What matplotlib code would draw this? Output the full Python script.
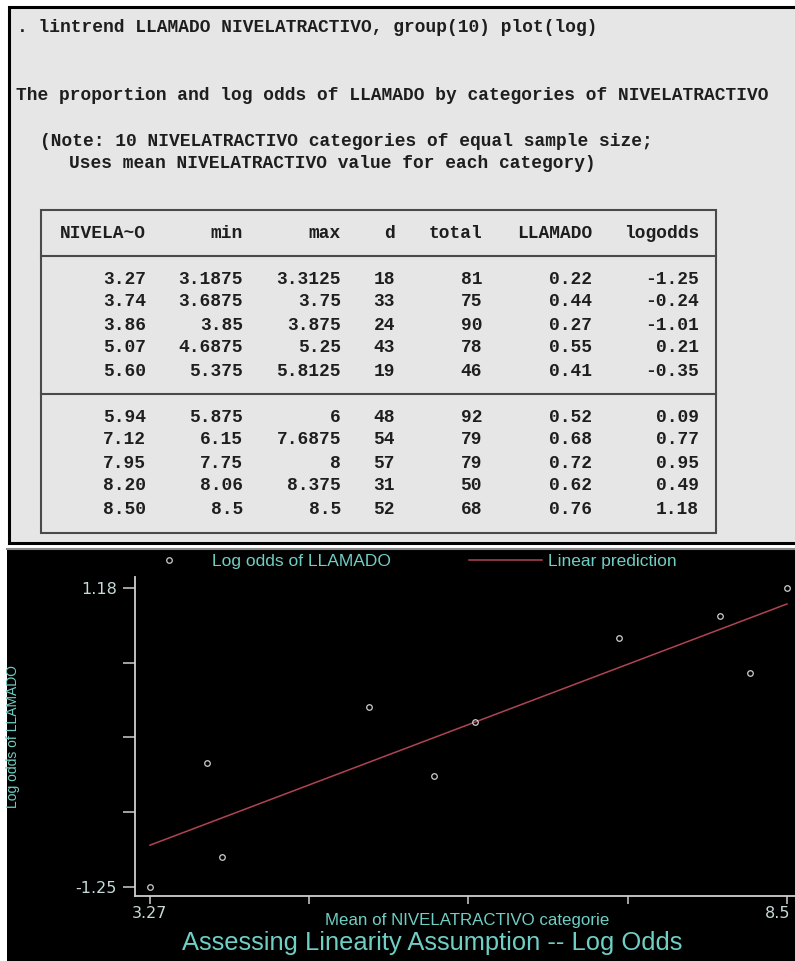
import numpy as np
import matplotlib
matplotlib.use("Agg")
import matplotlib.pyplot as plt
from matplotlib.patches import Rectangle
from matplotlib.lines import Line2D
from matplotlib.transforms import ScaledTranslation

# table data (lintrend output)
nivel_mean = [3.27, 3.74, 3.86, 5.07, 5.60, 5.94, 7.12, 7.95, 8.20, 8.50]
nivel_min = [3.1875, 3.6875, 3.85, 4.6875, 5.375, 5.875, 6.15, 7.75, 8.06, 8.5]
nivel_max = [3.3125, 3.75, 3.875, 5.25, 5.8125, 6, 7.6875, 8, 8.375, 8.5]
d = [18, 33, 24, 43, 19, 48, 54, 57, 31, 52]
total = [81, 75, 90, 78, 46, 92, 79, 79, 50, 68]
llamado = [0.22, 0.44, 0.27, 0.55, 0.41, 0.52, 0.68, 0.72, 0.62, 0.76]
logodds = [-1.25, -0.24, -1.01, 0.21, -0.35, 0.09, 0.77, 0.95, 0.49, 1.18]
headers = ["NIVELA~O", "min", "max", "d", "total", "LLAMADO", "logodds"]

# linear prediction (ends of the fitted line)
pred_x = [3.27, 8.50]
pred_y = [-0.91, 1.05]

W, H = 795, 961
fig = plt.figure(figsize=(W / 100, H / 100), dpi=100, facecolor="white")

# canvas in pixel coords for the console part
cv = fig.add_axes([0, 0, 1, 1])
cv.set_xlim(0, W)
cv.set_ylim(H, 0)
cv.axis("off")

cv.add_patch(Rectangle((9, 7), W, 536, facecolor="#e6e6e6", edgecolor="black", lw=2.2))
cv.add_patch(Rectangle((7, 548), W, H, facecolor="black", edgecolor="none"))
cv.plot([7, W], [549, 549], color="#8a8a8a", lw=1.5)

mono = dict(family="Liberation Mono", weight="bold", size=12.9, color="#1e1e1e", va="center")
cv.text(17, 27, ". lintrend LLAMADO NIVELATRACTIVO, group(10) plot(log)", **mono)
cv.text(16, 96, "The proportion and log odds of LLAMADO by categories of NIVELATRACTIVO", **mono)
cv.text(40, 142, "(Note: 10 NIVELATRACTIVO categories of equal sample size;", **mono)
cv.text(69, 164, "Uses mean NIVELATRACTIVO value for each category)", **mono)

# table frame
cv.add_patch(Rectangle((41, 210), 675, 323, facecolor="none", edgecolor="#4a4a4a", lw=1.5))
cv.plot([41, 716], [256, 256], color="#4a4a4a", lw=1.5)
cv.plot([41, 716], [394, 394], color="#4a4a4a", lw=1.5)

col_right = [146, 243, 341, 395, 482, 592, 699]
for xr, h in zip(col_right, headers):
    cv.text(xr, 233, h, ha="right", **mono)

row_y = [279, 302, 325, 348, 371, 417, 440, 463, 486, 509]
for i, y in enumerate(row_y):
    cells = [f"{nivel_mean[i]:.2f}", f"{nivel_min[i]:g}", f"{nivel_max[i]:g}",
             f"{d[i]}", f"{total[i]}", f"{llamado[i]:.2f}", f"{logodds[i]:.2f}"]
    for xr, c in zip(col_right, cells):
        cv.text(xr, y, c, ha="right", **mono)

# stata graph
cyan = "#6fcfc4"
grey = "#cfcfcf"
ticktxt = "#c6dada"
red = "#b04455"
ax = fig.add_axes([135 / W, (H - 896) / H, (W - 135) / W, (896 - 577) / H])
ax.set_facecolor("none")
ax.set_xlim(3.147, 8.566)
ax.set_ylim(-1.323, 1.269)

ax.plot(pred_x, pred_y, color=red, lw=1.1)
ax.plot(nivel_mean, logodds, "o", ms=4, mfc="none", mec=grey, mew=0.9)

for s in ["top", "right"]:
    ax.spines[s].set_visible(False)
for s in ["left", "bottom"]:
    ax.spines[s].set_color(grey)
    ax.spines[s].set_linewidth(1.3)

ax.set_xticks(np.linspace(3.27, 8.5, 5))
ax.set_xticklabels(["3.27", "", "", "", "8.5"])
ax.set_yticks(np.linspace(-1.25, 1.18, 5))
ax.set_yticklabels(["-1.25", "", "", "", "1.18"])
ax.tick_params(colors=grey, labelcolor=ticktxt, width=1.1, labelsize=11.5)
ax.tick_params(axis="y", length=9, pad=4)
ax.tick_params(axis="x", length=6, pad=1)
# nudge the right-hand label so it stays inside the picture
last = ax.get_xticklabels()[-1]
last.set_transform(last.get_transform() + ScaledTranslation(-7 / 72, 0, fig.dpi_scale_trans))

ax.set_ylabel("Log odds of LLAMADO", color=cyan, fontsize=10, family="Liberation Sans")
ax.yaxis.set_label_coords((20 - 135) / (W - 135), 0.5)

fig.text(467 / W, (H - 921) / H, "Mean of NIVELATRACTIVO categorie", color=cyan,
         fontsize=12.2, family="Liberation Sans", ha="center", va="center")
fig.text(432 / W, (H - 943) / H, "Assessing Linearity Assumption -- Log Odds", color=cyan,
         fontsize=18.4, family="Liberation Sans", ha="center", va="center")

handles = [Line2D([], [], ls="none", marker="o", ms=4, mfc="none", mec=grey, mew=0.9),
           Line2D([], [], color=red, lw=1.1)]
fig.legend(handles, ["Log odds of LLAMADO", "Linear prediction"], ncol=2, frameon=False,
           loc="center left", bbox_to_anchor=(133 / W, (H - 561) / H),
           borderaxespad=0, borderpad=0, handlelength=4.2, handletextpad=0.35,
           columnspacing=4.5, labelcolor=cyan, prop={"family": "Liberation Sans", "size": 12.5})

fig.savefig("out.png", dpi=100, facecolor="white")
